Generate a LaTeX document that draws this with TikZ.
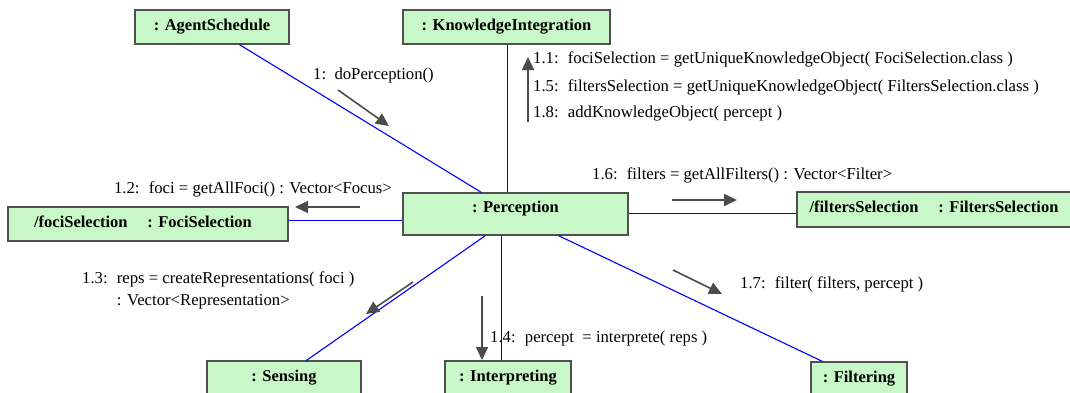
\documentclass[tikz,border=0pt]{standalone}
\usepackage{fontspec}
\setmainfont{Liberation Serif}
\usetikzlibrary{arrows.meta,calc}

\definecolor{objfill}{RGB}{200,248,200}
\definecolor{objborder}{RGB}{80,80,80}
\definecolor{linkblue}{RGB}{0,0,255}
\definecolor{msggray}{RGB}{75,75,75}

\tikzset{
  obj/.style={draw=objborder, line width=1.2pt, fill=objfill, rectangle,
    inner sep=0pt, text height=20pt, text depth=14pt,
    font=\fontsize{16.5}{18}\selectfont\bfseries},
  link/.style={draw=linkblue, line width=1.1pt},
  msg/.style={draw=msggray, line width=1.6pt,
    -{Triangle[length=13pt,width=12pt]}},
  lbl/.style={inner sep=0pt, font=\fontsize{16.7}{22}\selectfont, text=black},
}

\begin{document}
\begin{tikzpicture}[x=1pt,y=-1pt]
\useasboundingbox (0,0) rectangle (1070,392);

% objects
\node[obj, minimum width=154pt] (as) at (212,27) {: AgentSchedule};
\node[obj, minimum width=207pt] (ki) at (506.5,27) {: KnowledgeIntegration};
\node[obj, minimum width=225pt, text height=19pt, text depth=23pt] (perc) at (515.5,214) {: Perception};
\node[obj, minimum width=280pt] (foci) at (148,224) {\hspace{-10pt}/fociSelection\hspace{1.2em}: FociSelection};
\node[obj, minimum width=278pt, text height=20pt, text depth=15pt] (filt) at (936,209.5) {\hspace{-4pt}/filtersSelection\hspace{1.2em}: FiltersSelection};
\node[obj, minimum width=154pt] (sens) at (284,378) {: Sensing};
\node[obj, minimum width=126pt] (interp) at (508,378) {: Interpreting};
\node[obj, minimum width=96pt] (filtg) at (859,379) {: Filtering};

% links
\draw[link] ($(as.south west)+(105,0)$) -- ($(perc.north west)+(79,0)$);
\draw[link] ($(ki.south west)+(105.5,0)$) -- ($(perc.north west)+(105.5,0)$);
\draw[link] ($(foci.north east)+(0,14.5)$) -- ($(perc.north west)+(0,28.5)$);
\draw[link] ($(perc.north east)+(0,21.5)$) -- ($(filt.north west)+(0,22.5)$);
\draw[link] ($(perc.south west)+(83,0)$) -- ($(sens.north west)+(100,0)$);
\draw[link] ($(perc.south west)+(99.5,0)$) -- ($(interp.north west)+(57.5,0)$);
\draw[link] ($(perc.south west)+(156,0)$) -- ($(filtg.north west)+(12,0)$);

% message arrows
\coordinate (m1s) at (338,90);   \coordinate (m1e) at (389,126);
\coordinate (m11s) at (528,122); \coordinate (m11e) at (528,57);
\coordinate (m12s) at (360,207); \coordinate (m12e) at (295,207);
\coordinate (m16s) at (672,200); \coordinate (m16e) at (737,200);
\coordinate (m17s) at (673,270); \coordinate (m17e) at (722,294);
\coordinate (m13s) at (413,282); \coordinate (m13e) at (366,314);
\coordinate (m14s) at (482,296); \coordinate (m14e) at (482,360);
\draw[msg] (m1s) -- (m1e);
\draw[msg] (m11s) -- (m11e);
\draw[msg] (m12s) -- (m12e);
\draw[msg] (m16s) -- (m16e);
\draw[msg] (m17s) -- (m17e);
\draw[msg] (m13s) -- (m13e);
\draw[msg] (m14s) -- (m14e);

% message labels
\node[lbl, anchor=west] (l1) at (313,75) {1:\hspace{0.5em}doPerception()};
\node[lbl, anchor=west] (l11) at (533,59) {1.1:\hspace{0.55em}fociSelection = getUniqueKnowledgeObject( FociSelection.class )};
\node[lbl, anchor=west] (l15) at (533,87) {1.5:\hspace{0.55em}filtersSelection = getUniqueKnowledgeObject( FiltersSelection.class )};
\node[lbl, anchor=west] (l18) at (533,114) {1.8:\hspace{0.55em}addKnowledgeObject( percept )};
\node[lbl, anchor=east] (l12) at (392,189) {1.2:\hspace{0.55em}foci = getAllFoci() : Vector<Focus>};
\node[lbl, anchor=west] (l16) at (592,175) {1.6:\hspace{0.55em}filters = getAllFilters() : Vector<Filter>};
\node[lbl, anchor=north west, align=left] (l13) at (82,272) {1.3:\hspace{0.55em}reps = createRepresentations( foci )\\\phantom{1.3:\hspace{0.55em}}: Vector<Representation>};
\node[lbl, anchor=west] (l14) at (490,338) {1.4:\hspace{0.55em}percept\hspace{0.5em}= interprete( reps )};
\node[lbl, anchor=west] (l17) at (740,284) {1.7:\hspace{0.55em}filter( filters, percept )};
\end{tikzpicture}
\end{document}
